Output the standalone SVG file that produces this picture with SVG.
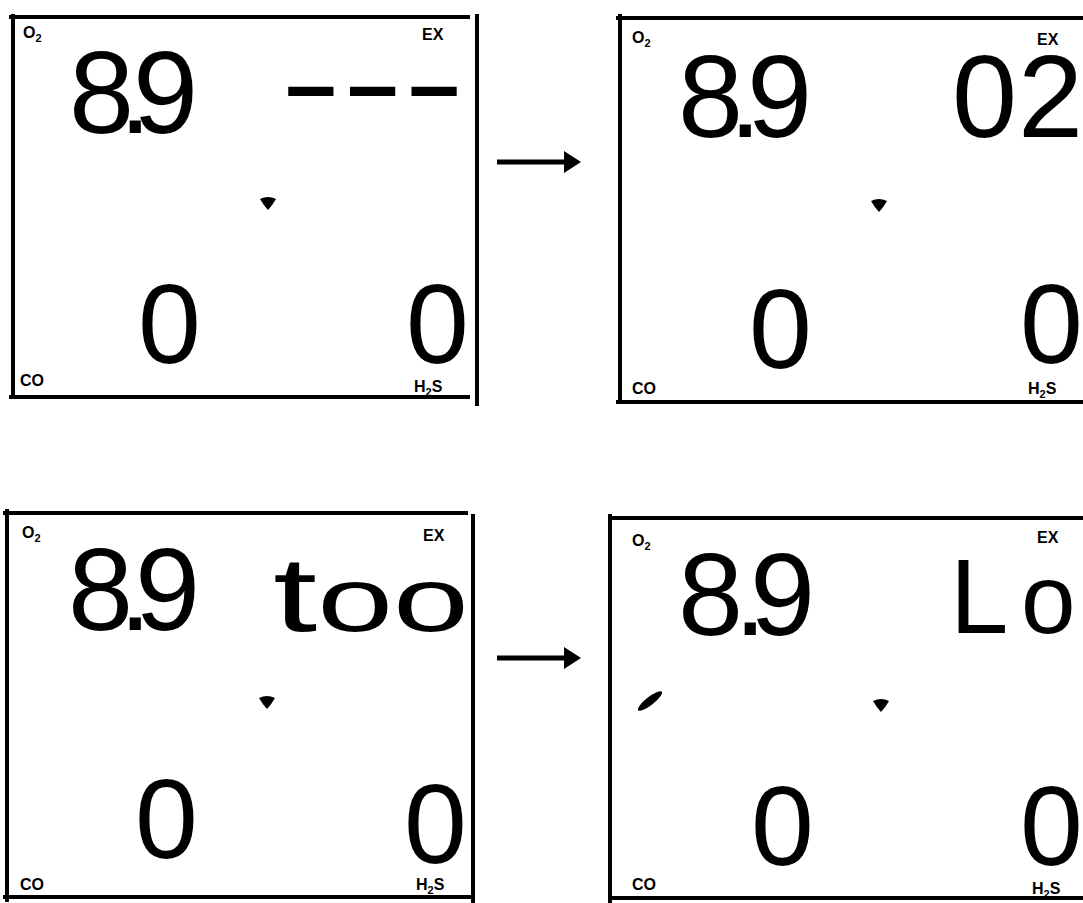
<svg xmlns="http://www.w3.org/2000/svg" width="1083" height="903" viewBox="0 0 1083 903">
<style>
.frame{stroke:#000;stroke-width:4;fill:none;stroke-linecap:square}
.big{font-family:"Liberation Sans",Arial,sans-serif;font-size:117px;fill:#000}
.mid{font-family:"Liberation Sans",Arial,sans-serif;font-size:113px;fill:#000}
.let{font-family:"Liberation Sans",Arial,sans-serif;font-size:105px;fill:#000}
.lbl{font-family:"Liberation Sans",Arial,sans-serif;font-size:16px;font-weight:bold;fill:#000}
.sub{font-size:11px}
.conn{stroke:#000;stroke-width:5;fill:none}
</style>
<defs>
<marker id="ah" markerWidth="4" markerHeight="5" refX="0.5" refY="2.25" orient="auto" markerUnits="strokeWidth">
<path d="M0,0 L3.5,2.25 L0,4.5 Z" fill="#000"/>
</marker>
<path id="dot" d="M-8,-4 Q0,-8 8,-4 Q4,3 0,7 Q-4,3 -8,-4 Z" fill="#000"/>
</defs>
<rect width="1083" height="903" fill="#fff"/>

<g id="panel1">
<line class="frame" x1="11" y1="17" x2="468" y2="17"/>
<line class="frame" x1="13" y1="16" x2="13" y2="395"/>
<line class="frame" x1="11" y1="397" x2="468" y2="397"/>
<line class="frame" x1="477" y1="16" x2="477" y2="404"/>
<text class="lbl" x="23" y="38">O<tspan class="sub" dy="4">2</tspan></text>
<text class="lbl" x="422" y="40">EX</text>
<text class="lbl" x="20" y="386">CO</text>
<text class="lbl" x="414" y="392">H<tspan class="sub" dy="4">2</tspan><tspan dy="-4">S</tspan></text>
<text class="big" x="69 119 133" y="133">8.9</text>
<text class="big" x="280" y="123" textLength="185" lengthAdjust="spacingAndGlyphs">---</text>
<use href="#dot" x="268" y="203"/>
<text class="mid" x="138" y="363">0</text>
<text class="mid" x="406" y="363">0</text>
</g>

<g id="panel2">
<line class="frame" x1="618" y1="18" x2="1085" y2="18"/>
<line class="frame" x1="620" y1="16" x2="620" y2="402"/>
<line class="frame" x1="618" y1="402" x2="1085" y2="402"/>
<text class="lbl" x="632" y="43">O<tspan class="sub" dy="4">2</tspan></text>
<text class="lbl" x="1037" y="45">EX</text>
<text class="lbl" x="632" y="394">CO</text>
<text class="lbl" x="1028" y="394">H<tspan class="sub" dy="4">2</tspan><tspan dy="-4">S</tspan></text>
<text class="big" x="678 729 747" y="137">8.9</text>
<text class="big" x="952 1018" y="137">02</text>
<use href="#dot" x="879" y="205"/>
<text class="mid" x="749" y="368">0</text>
<text class="mid" x="1020" y="363">0</text>
</g>

<g id="panel3">
<line class="frame" x1="5" y1="513" x2="466" y2="513"/>
<line class="frame" x1="7" y1="511" x2="7" y2="900"/>
<line class="frame" x1="5" y1="897" x2="470" y2="897"/>
<line class="frame" x1="473" y1="516" x2="473" y2="905"/>
<text class="lbl" x="22" y="538">O<tspan class="sub" dy="4">2</tspan></text>
<text class="lbl" x="423" y="541">EX</text>
<text class="lbl" x="20" y="890">CO</text>
<text class="lbl" x="416" y="890">H<tspan class="sub" dy="4">2</tspan><tspan dy="-4">S</tspan></text>
<text class="big" x="68 119 135" y="630">8.9</text>
<text class="let" x="273" y="631" textLength="196" lengthAdjust="spacingAndGlyphs">t<tspan font-size="90">oo</tspan></text>
<use href="#dot" x="267" y="702"/>
<text class="mid" x="135" y="858">0</text>
<text class="mid" x="404" y="863">0</text>
</g>

<g id="panel4">
<line class="frame" x1="612" y1="518" x2="1085" y2="518"/>
<line class="frame" x1="610" y1="516" x2="610" y2="905"/>
<line class="frame" x1="612" y1="898" x2="1085" y2="898"/>
<text class="lbl" x="632" y="546">O<tspan class="sub" dy="4">2</tspan></text>
<text class="lbl" x="1037" y="543">EX</text>
<text class="lbl" x="632" y="890">CO</text>
<text class="lbl" x="1032" y="894">H<tspan class="sub" dy="4">2</tspan><tspan dy="-4">S</tspan></text>
<text class="big" x="678 734 750" y="635">8.9</text>
<text class="let" x="950 1021" y="633">L<tspan font-size="98">o</tspan></text>
<ellipse cx="650" cy="701" rx="15" ry="4" transform="rotate(-38 650 701)" fill="#000"/>
<use href="#dot" x="881" y="705"/>
<text class="mid" x="751" y="865">0</text>
<text class="mid" x="1020" y="865">0</text>
</g>

<g id="connectors">
<line class="conn" x1="497" y1="162" x2="566" y2="162" marker-end="url(#ah)"/>
<line class="conn" x1="497" y1="658" x2="566" y2="658" marker-end="url(#ah)"/>
</g>
</svg>
